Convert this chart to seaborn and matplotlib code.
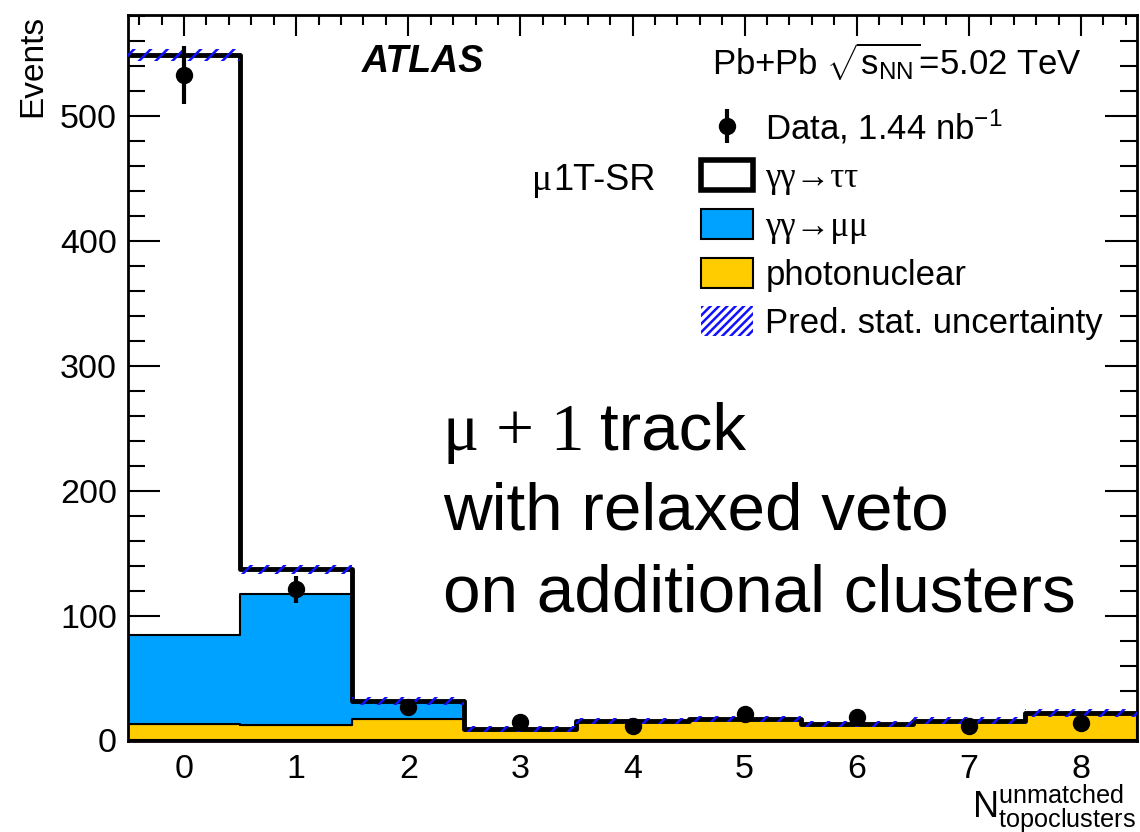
import numpy as np
import pandas as pd
import matplotlib
matplotlib.use("Agg")
import matplotlib.pyplot as plt
import seaborn as sns
from matplotlib.patches import Patch
from matplotlib.ticker import MultipleLocator

# ---- data ----
bins = [0, 1, 2, 3, 4, 5, 6, 7, 8]
photonuclear = [13.6, 12.8, 17.6, 9.5, 15.5, 17.0, 13.3, 16.0, 22.0]
mumu = [71.2, 104.8, 13.0, 0, 0, 0, 0, 0, 0]
tautau = [464.0, 19.4, 1.0, 0, 0, 0, 0, 0, 0]
pred_err = [5.0, 3.5, 3.0, 2.5, 2.5, 2.5, 2.5, 2.5, 3.0]
data = [533, 121, 27, 15, 12, 21, 19, 12, 14]

total = [p + m + t for p, m, t in zip(photonuclear, mumu, tautau)]

sns.set_style("ticks")
plt.rcParams["font.family"] = ["Liberation Sans", "DejaVu Sans"]
plt.rcParams["mathtext.fontset"] = "custom"
plt.rcParams["mathtext.rm"] = "Liberation Sans"
plt.rcParams["mathtext.it"] = "Liberation Sans:italic"
plt.rcParams["mathtext.bf"] = "Liberation Sans:bold"
plt.rcParams["hatch.linewidth"] = 1.8
plt.rcParams["hatch.color"] = "#1010ff"
plt.rcParams["text.color"] = "black"
plt.rcParams["axes.labelcolor"] = "black"
plt.rcParams["xtick.color"] = "black"
plt.rcParams["ytick.color"] = "black"

W, H = 1140, 832
fig = plt.figure(figsize=(W / 100, H / 100), dpi=100)
ax = fig.add_axes([128 / W, 1 - 740.5 / H, 1009 / W, 725.5 / H])

BLUE = "#00a2ff"
YEL = "#ffcc00"
HBLUE = "#1010ff"

df = pd.DataFrame({
    "n": bins * 2,
    "w": mumu + photonuclear,
    "proc": ["mumu"] * len(bins) + ["photonuclear"] * len(bins),
})
edges = [b - 0.5 for b in bins] + [bins[-1] + 0.5]
sns.histplot(data=df, x="n", weights="w", hue="proc", hue_order=["mumu", "photonuclear"],
             multiple="stack", bins=edges, element="step", fill=True, alpha=1,
             palette={"mumu": BLUE, "photonuclear": YEL}, edgecolor="black",
             linewidth=1.5, legend=False, ax=ax)

# total outline
df_tot = pd.DataFrame({"n": bins, "w": total})
sns.histplot(data=df_tot, x="n", weights="w", bins=edges, element="step", fill=False,
             color="black", linewidth=3.5, ax=ax, zorder=4)

# uncertainty band
ax.bar(bins, [2 * e for e in pred_err], bottom=[t - e for t, e in zip(total, pred_err)],
       width=1.0, fill=False, hatch="//", edgecolor=HBLUE, linewidth=0, zorder=5)

# data
ax.errorbar(bins, data, yerr=np.sqrt(data), fmt="o", color="black", markersize=11.5,
            elinewidth=3, capsize=0, zorder=6)

ax.set_xlim(-0.5, 8.5)
ax.set_ylim(0, 581)
ax.xaxis.set_major_locator(MultipleLocator(1))
ax.xaxis.set_minor_locator(MultipleLocator(0.2))
ax.yaxis.set_major_locator(MultipleLocator(100))
ax.yaxis.set_minor_locator(MultipleLocator(20))
ax.tick_params(which="both", direction="in", top=True, right=True, width=1.5,
               labelsize=24.5, color="black", labelcolor="black")
ax.tick_params(axis="x", which="major", length=15, pad=10)
ax.tick_params(axis="x", which="minor", length=7.5)
ax.tick_params(axis="y", which="major", length=23, pad=8)
ax.tick_params(axis="y", which="minor", length=12)
for s in ax.spines.values():
    s.set_linewidth(2)
    s.set_color("black")

ax.set_ylabel("Events", fontsize=24, loc="top")
ax.yaxis.set_label_coords(-0.079, 1.0)
ax.set_xlabel(r"$\mathrm{N}^{\mathrm{unmatched}}_{\mathrm{topoclusters}}$", fontsize=26)
ax.xaxis.set_label_coords(0.999, -0.058)
ax.xaxis.label.set_horizontalalignment("right")
ax.xaxis.label.set_verticalalignment("top")

def ftext(x, y, s, **kw):
    fig.text(x / W, 1 - y / H, s, **kw)

ftext(362, 62, "ATLAS", fontsize=27, fontweight="bold", fontstyle="italic", va="center")
ftext(712, 62, r"Pb+Pb $\sqrt{\mathrm{s}_{\mathrm{NN}}}$=5.02 TeV", fontsize=25, va="center")
ftext(532, 181, "μ", fontsize=27, va="center", family="Liberation Serif")
ftext(553, 181, "1T-SR", fontsize=26, va="center")

ftext(443, 433, "μ + 1", fontsize=48.5, va="center", family="Liberation Serif")
ftext(600, 433, "track", fontsize=48.5, va="center")
ftext(443, 513, "with relaxed veto", fontsize=48.5, va="center")
ftext(443, 595, "on additional clusters", fontsize=48.5, va="center")

# legend
h_data = ax.errorbar([], [], yerr=[], fmt="o", color="black", markersize=11.5, elinewidth=3)
handles = [
    h_data,
    Patch(facecolor="white", edgecolor="black", linewidth=4),
    Patch(facecolor=BLUE, edgecolor="black", linewidth=1.5),
    Patch(facecolor=YEL, edgecolor="black", linewidth=1.5),
    Patch(facecolor="white", edgecolor=HBLUE, hatch="////", linewidth=0),
]
labels = [r"Data, 1.44 nb$^{\mathrm{-1}}$", "γγ→ττ", "γγ→μμ", "photonuclear",
          "Pred. stat. uncertainty"]
leg = fig.legend(handles, labels, loc="upper left", bbox_to_anchor=(701 / W, 1 - 108 / H),
                 frameon=False, fontsize=25, handlelength=1.5, handleheight=0.95,
                 handletextpad=0.35, labelspacing=0.4, borderaxespad=0, borderpad=0)
for i in (1, 2):
    leg.get_texts()[i].set_family("Liberation Serif")

fig.savefig("out.png", dpi=100)
